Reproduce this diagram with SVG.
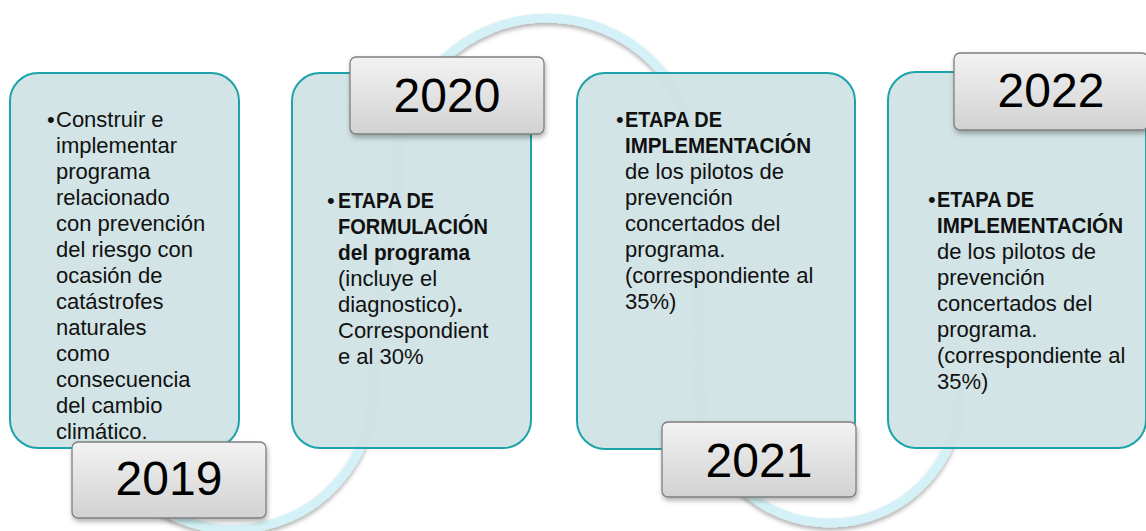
<svg xmlns="http://www.w3.org/2000/svg" width="1146" height="531" viewBox="0 0 1146 531">
<defs>
<style>
.box{fill:#cfe2e3;fill-opacity:0.93;stroke:#1fa3aa;stroke-width:2}
.yr{fill:url(#yg);stroke:#7f7f7f;stroke-width:1.3;filter:url(#sh)}
.yt{font-family:"Liberation Sans",Arial,sans-serif;font-size:48px;fill:#000;text-anchor:middle}
.t{font-family:"Liberation Sans",Arial,sans-serif;font-size:22px;fill:#111}
.b{font-weight:bold}
.arc{fill:none;stroke:#d3f1f6;stroke-width:9;stroke-linecap:round}
</style>
<linearGradient id="yg" x1="0" y1="0" x2="0" y2="1">
<stop offset="0" stop-color="#f2f2f2"/>
<stop offset="1" stop-color="#d2d2d2"/>
</linearGradient>
<filter id="sh" x="-10%" y="-10%" width="125%" height="135%">
<feDropShadow dx="1" dy="3" stdDeviation="2.5" flood-color="#000" flood-opacity="0.3"/>
</filter>
<filter id="ash" x="-10%" y="-10%" width="120%" height="120%">
<feDropShadow dx="0" dy="3" stdDeviation="2" flood-color="#000" flood-opacity="0.3"/>
</filter>
<clipPath id="c1"><rect x="10" y="73" width="229" height="368"/></clipPath>
</defs>

<g id="connectors">
<path class="arc" filter="url(#ash)" d="M 120,472 A 140 140 0 0 0 373 390 C 373,300 397,250 397,168 A 150 150 0 0 1 697 168 C 697,260 700,320 700,393 A 130 130 0 0 0 960 393"/>
</g>

<g id="node-2019">
<rect class="box" x="10" y="73" width="229" height="375" rx="28"/>
<g clip-path="url(#c1)">
<text class="t" x="47" y="127">•</text>
<text class="t" x="56" y="127">Construir e</text>
<text class="t" x="56" y="153">implementar</text>
<text class="t" x="56" y="179">programa</text>
<text class="t" x="56" y="205">relacionado</text>
<text class="t" x="56" y="231">con prevención</text>
<text class="t" x="56" y="257">del riesgo con</text>
<text class="t" x="56" y="283">ocasión de</text>
<text class="t" x="56" y="309">catástrofes</text>
<text class="t" x="56" y="335">naturales</text>
<text class="t" x="56" y="361">como</text>
<text class="t" x="56" y="387">consecuencia</text>
<text class="t" x="56" y="413">del cambio</text>
<text class="t" x="56" y="439">climático.</text>
</g>
<rect class="yr" x="72" y="442" width="194" height="76" rx="6"/>
<text class="yt" x="169" y="495">2019</text>
</g>

<g id="node-2020">
<rect class="box" x="292" y="73" width="239" height="375" rx="28"/>
<text class="t" x="327" y="208">•</text>
<text class="t b" x="338" y="208" textLength="96" lengthAdjust="spacingAndGlyphs">ETAPA DE</text>
<text class="t b" x="338" y="234" textLength="150" lengthAdjust="spacingAndGlyphs">FORMULACIÓN</text>
<text class="t b" x="338" y="260" textLength="132" lengthAdjust="spacingAndGlyphs">del programa</text>
<text class="t" x="338" y="286">(incluye el</text>
<text class="t" x="338" y="312">diagnostico)<tspan class="b">.</tspan></text>
<text class="t" x="338" y="338">Correspondient</text>
<text class="t" x="338" y="364">e al 30%</text>
<rect class="yr" x="350" y="57" width="194" height="77" rx="6"/>
<text class="yt" x="447" y="112">2020</text>
</g>

<g id="node-2021">
<rect class="box" x="577" y="73" width="278" height="376" rx="28"/>
<text class="t" x="616" y="127">•</text>
<text class="t b" x="625" y="127" textLength="97" lengthAdjust="spacingAndGlyphs">ETAPA DE</text>
<text class="t b" x="625" y="153" textLength="186" lengthAdjust="spacingAndGlyphs">IMPLEMENTACIÓN</text>
<text class="t" x="625" y="179">de los pilotos de</text>
<text class="t" x="625" y="205">prevención</text>
<text class="t" x="625" y="231">concertados del</text>
<text class="t" x="625" y="257">programa.</text>
<text class="t" x="625" y="283">(correspondiente al</text>
<text class="t" x="625" y="309">35%)</text>
<rect class="yr" x="662" y="422" width="194" height="75" rx="6"/>
<text class="yt" x="759" y="477">2021</text>
</g>

<g id="node-2022">
<rect class="box" x="888" y="72" width="258" height="376" rx="28"/>
<text class="t" x="928" y="207">•</text>
<text class="t b" x="937" y="207" textLength="97" lengthAdjust="spacingAndGlyphs">ETAPA DE</text>
<text class="t b" x="937" y="233" textLength="186" lengthAdjust="spacingAndGlyphs">IMPLEMENTACIÓN</text>
<text class="t" x="937" y="259">de los pilotos de</text>
<text class="t" x="937" y="285">prevención</text>
<text class="t" x="937" y="311">concertados del</text>
<text class="t" x="937" y="337">programa.</text>
<text class="t" x="937" y="363">(correspondiente al</text>
<text class="t" x="937" y="389">35%)</text>
<rect class="yr" x="954" y="53" width="194" height="77" rx="6"/>
<text class="yt" x="1051" y="107">2022</text>
</g>
</svg>
